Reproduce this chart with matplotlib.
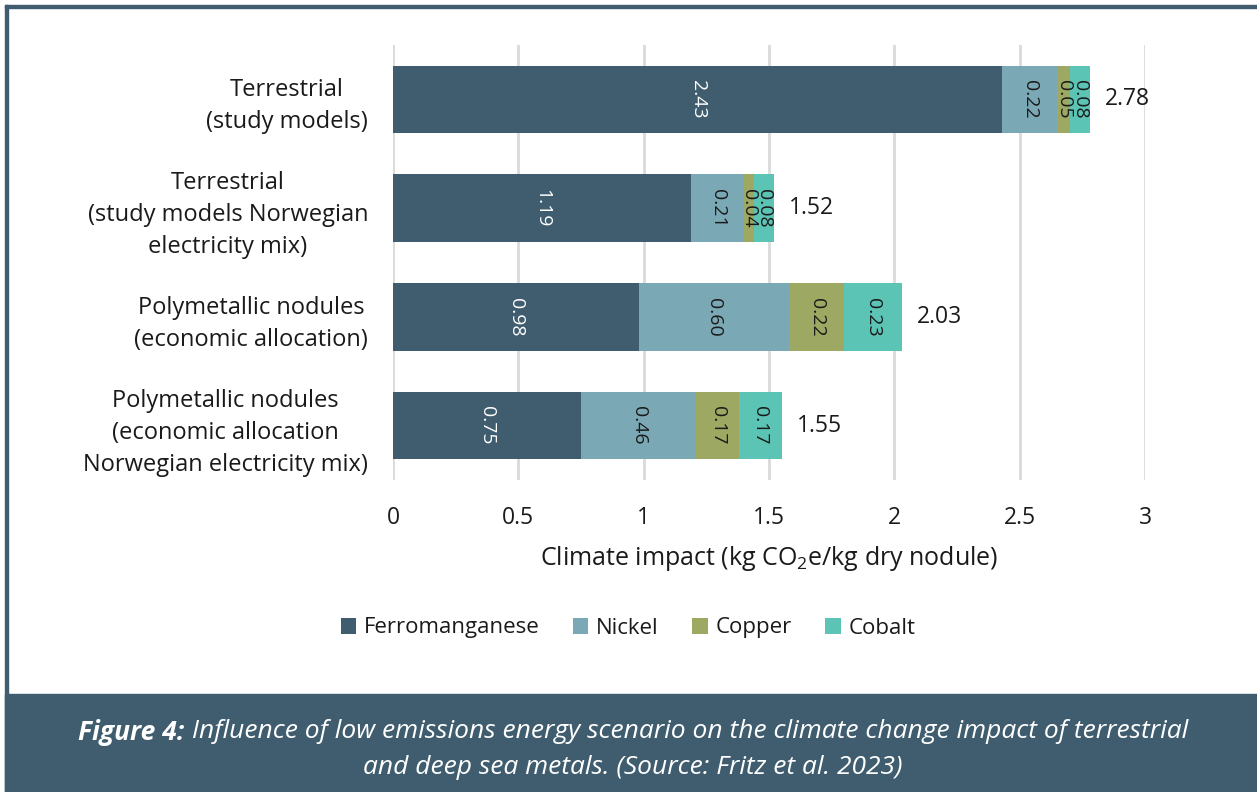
import numpy as np
import matplotlib
matplotlib.use("Agg")
import matplotlib.pyplot as plt
from matplotlib.patches import Rectangle

# Data
categories = [
    "Terrestrial\n(study models)",
    "Terrestrial\n(study models Norwegian\nelectricity mix)",
    "Polymetallic nodules\n(economic allocation)",
    "Polymetallic nodules\n(economic allocation\nNorwegian electricity mix)",
]
series_names = ["Ferromanganese", "Nickel", "Copper", "Cobalt"]
ferromanganese = [2.43, 1.19, 0.98, 0.75]
nickel = [0.22, 0.21, 0.60, 0.46]
copper = [0.05, 0.04, 0.22, 0.17]
cobalt = [0.08, 0.08, 0.23, 0.17]
totals = [2.78, 1.52, 2.03, 1.55]
x_ticks = [0, 0.5, 1, 1.5, 2, 2.5, 3]

colors = ["#3f5d6e", "#7aa8b5", "#9da862", "#5bc4b5"]
label_colors = ["white", "#1a1a1a", "#1a1a1a", "#1a1a1a"]
frame_color = "#3f5d6e"

plt.rcParams["font.family"] = ["Open Sans", "DejaVu Sans"]
plt.rcParams["mathtext.fontset"] = "custom"
plt.rcParams["mathtext.rm"] = "Open Sans"

fig = plt.figure(figsize=(12.57, 7.92), dpi=100)
W, H = 1257, 792

# outer frame (left + top line) and caption band
fig.patches.append(Rectangle((5 / W, 0), 3 / W, 1 - 5 / H, transform=fig.transFigure,
                             color=frame_color, zorder=0))
fig.patches.append(Rectangle((5 / W, 1 - 8 / H), 1, 3 / H, transform=fig.transFigure,
                             color=frame_color, zorder=0))
fig.patches.append(Rectangle((5 / W, 0), 1, 98 / H, transform=fig.transFigure,
                             color=frame_color, zorder=0))

ax = fig.add_axes([393 / W, 1 - 480 / H, (1145 - 393) / W, (480 - 45) / H])

series = [ferromanganese, nickel, copper, cobalt]
y = np.arange(len(categories))
left = np.zeros(len(categories))
for vals, name, col, lcol in zip(series, series_names, colors, label_colors):
    vals = np.array(vals)
    ax.barh(y, vals, left=left, height=0.62, color=col, label=name, zorder=2)
    for yi, l, v in zip(y, left, vals):
        ax.text(l + v / 2, yi, f"{v:.2f}", rotation=270, ha="center", va="center",
                color=lcol, fontsize=14, zorder=3)
    left += vals

for yi, t, l in zip(y, totals, left):
    ax.text(l + 0.06, yi, f"{t:.2f}", ha="left", va="center", fontsize=16.5,
            color="#1a1a1a")

ax.set_xlim(0, 3)
ax.set_ylim(len(categories) - 0.5, -0.5)
ax.set_xticks(x_ticks)
ax.set_xticklabels([f"{t:g}" for t in x_ticks])
ax.set_yticks(y)
ax.set_yticklabels(categories, multialignment="center", linespacing=1.45, fontsize=17)
ax.tick_params(axis="x", length=0, labelsize=16.5, colors="#1a1a1a", pad=19)
ax.tick_params(axis="y", length=0, colors="#1a1a1a", pad=18)
ax.grid(axis="x", color="#d9d9d9", linewidth=2, zorder=0)
ax.set_axisbelow(True)
for s in ax.spines.values():
    s.set_visible(False)

ax.set_xlabel("Climate impact (kg CO$_2$e/kg dry nodule)", fontsize=18, color="#1a1a1a",
              labelpad=10)

leg = fig.legend(loc="center", bbox_to_anchor=(628 / W, 1 - 628 / H), ncol=4,
                 frameon=False, fontsize=16, handlelength=0.7, handleheight=0.7,
                 handletextpad=0.35, columnspacing=1.5)
for txt in leg.get_texts():
    txt.set_color("#1a1a1a")

# caption
cap_size = 19
line1_bold = "Figure 4:"
line1_rest = " Influence of low emissions energy scenario on the climate change impact of terrestrial"
line2 = "and deep sea metals. (Source: Fritz et al. 2023)"
cx = 633 / W
fig.canvas.draw()
r = fig.canvas.get_renderer()
tb = fig.text(0, 0, line1_bold, fontsize=cap_size, style="italic", weight="bold", color="white")
tr = fig.text(0, 0, line1_rest, fontsize=cap_size, style="italic", color="white")
wb = tb.get_window_extent(r).width / W
wr = tr.get_window_extent(r).width / W
x0 = cx - (wb + wr) / 2
y1 = 1 - 732 / H
tb.set_position((x0, y1)); tb.set_va("center")
tr.set_position((x0 + wb, y1)); tr.set_va("center")
fig.text(cx, 1 - 767 / H, line2, fontsize=cap_size, style="italic", color="white",
         ha="center", va="center")

fig.savefig("out.png", dpi=100)
